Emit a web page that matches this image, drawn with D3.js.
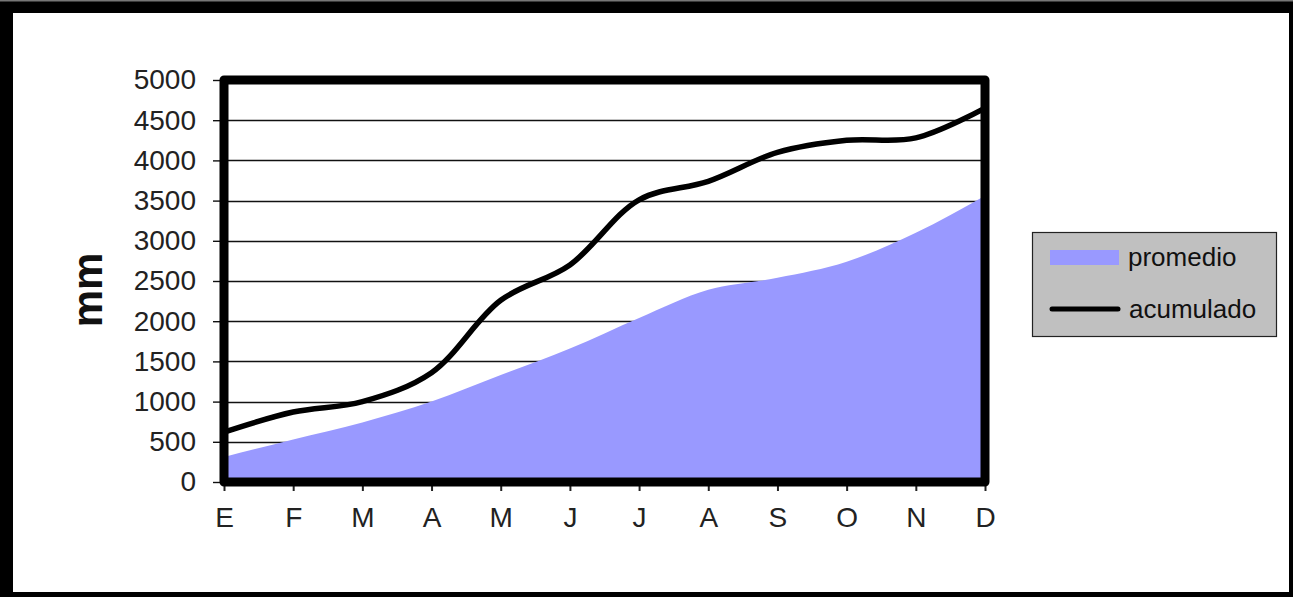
<!DOCTYPE html>
<html>
<head>
<meta charset="utf-8">
<script src="https://cdn.jsdelivr.net/npm/d3@7"></script>
<style>
  html, body { margin: 0; padding: 0; background: #000; }
  svg { display: block; }
  text { font-family: "Liberation Sans", Arial, sans-serif; }
</style>
</head>
<body>
<svg id="chart" width="1293" height="597"></svg>
<script>
const months = ["E", "F", "M", "A", "M", "J", "J", "A", "S", "O", "N", "D"];
const promedio = [310, 530, 740, 1000, 1330, 1660, 2040, 2390, 2540, 2740, 3100, 3560];
const acumulado = [620, 870, 1000, 1360, 2260, 2700, 3510, 3740, 4100, 4250, 4280, 4650];
const yTicks = [0, 500, 1000, 1500, 2000, 2500, 3000, 3500, 4000, 4500, 5000];
const seriesNames = ["promedio", "acumulado"];

(function () {
const svg = d3.select("#chart");
const W = 1293, H = 597;

// outer frame
svg.append("rect").attr("x", 0).attr("y", 0).attr("width", W).attr("height", H).attr("fill", "#000");
svg.append("rect").attr("x", 0).attr("y", 0).attr("width", W).attr("height", 1.5).attr("fill", "#777");
svg.append("rect").attr("x", 13).attr("y", 13).attr("width", 1276).attr("height", 579).attr("fill", "#fff");

const pL = 224, pR = 985, pT = 80, pB = 482;
const x = d3.scaleLinear().domain([0, months.length - 1]).range([pL, pR]);
const y = d3.scaleLinear().domain([0, 5000]).range([pB, pT]);

// gridlines
svg.append("g").selectAll("line").data(yTicks.filter(d => d > 0 && d < 5000)).join("line")
  .attr("x1", pL).attr("x2", pR)
  .attr("y1", d => Math.round(y(d)) + 0.5).attr("y2", d => Math.round(y(d)) + 0.5)
  .attr("stroke", "#111").attr("stroke-width", 1.4);

// area
const area = d3.area().x((d, i) => x(i)).y0(y(0)).y1(d => y(d)).curve(d3.curveMonotoneX);
svg.append("path").datum(promedio).attr("d", area).attr("fill", "#9999ff");

// line
const line = d3.line().x((d, i) => x(i)).y(d => y(d)).curve(d3.curveCatmullRom.alpha(0.5));
svg.append("path").datum(acumulado).attr("d", line)
  .attr("fill", "none").attr("stroke", "#000").attr("stroke-width", 5.5).attr("stroke-linecap", "round");

// y axis
const yAxis = d3.axisLeft(y).tickValues(yTicks).tickFormat(d => String(d))
  .tickSizeInner(11).tickSizeOuter(0).tickPadding(17);
const gy = svg.append("g").attr("transform", `translate(${pL},0)`).call(yAxis);
gy.select(".domain").remove();
gy.selectAll(".tick line").attr("stroke", "#111").attr("stroke-width", 1.4);
gy.selectAll(".tick text").attr("font-size", 28).attr("fill", "#222")
  .attr("font-family", "'Liberation Sans', Arial, sans-serif");

// x axis
const xAxis = d3.axisBottom(x).tickValues(d3.range(months.length)).tickFormat(i => months[i])
  .tickSizeInner(9).tickSizeOuter(0).tickPadding(16);
const gx = svg.append("g").attr("transform", `translate(0,${pB})`).call(xAxis);
gx.select(".domain").remove();
gx.selectAll(".tick line").attr("stroke", "#222").attr("stroke-width", 2);
gx.selectAll(".tick text").attr("font-size", 28).attr("fill", "#222")
  .attr("font-family", "'Liberation Sans', Arial, sans-serif");

// plot frame
svg.append("rect").attr("x", pL).attr("y", pT).attr("width", pR - pL).attr("height", pB - pT)
  .attr("fill", "none").attr("stroke", "#000").attr("stroke-width", 9).attr("stroke-linejoin", "round");

// y label
svg.append("text").attr("transform", "translate(102,290) rotate(-90)")
  .attr("text-anchor", "middle").attr("font-size", 42).attr("font-weight", "bold").attr("fill", "#111")
  .text("mm");

// legend
const lg = svg.append("g");
lg.append("rect").attr("x", 1032.5).attr("y", 232.5).attr("width", 244).attr("height", 104)
  .attr("fill", "#c0c0c0").attr("stroke", "#222").attr("stroke-width", 1.2);
lg.append("rect").attr("x", 1050).attr("y", 250).attr("width", 69).attr("height", 15).attr("fill", "#9999ff");
lg.append("line").attr("x1", 1052).attr("x2", 1118).attr("y1", 309).attr("y2", 309)
  .attr("stroke", "#000").attr("stroke-width", 5).attr("stroke-linecap", "round");
lg.append("text").attr("x", 1128).attr("y", 266).attr("font-size", 26).attr("fill", "#111").text(seriesNames[0]);
lg.append("text").attr("x", 1129).attr("y", 318).attr("font-size", 26).attr("fill", "#111").text(seriesNames[1]);
})();
</script>
</body>
</html>
